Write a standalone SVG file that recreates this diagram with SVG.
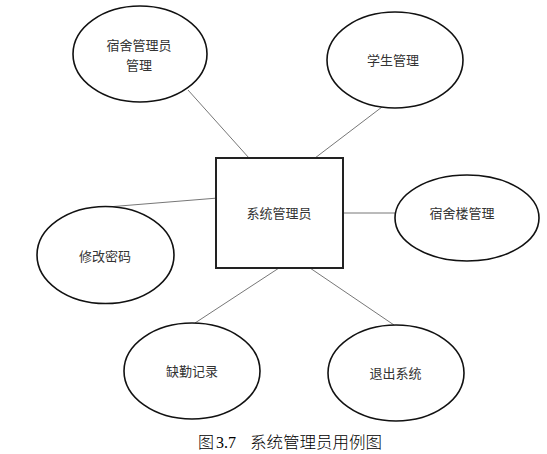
<svg xmlns="http://www.w3.org/2000/svg" width="547" height="454" viewBox="0 0 547 454">
<style>
.uc{fill:#fff;stroke:#111;stroke-width:1.6}
.box{fill:#fff;stroke:#222;stroke-width:2}
.lbl{font-family:"Noto Sans CJK SC","Liberation Sans",sans-serif;font-size:13px;fill:#333;text-anchor:middle}
.cap{font-family:"Noto Sans CJK SC",sans-serif;font-weight:300;font-size:16px;fill:#000}
.num{font-family:"Liberation Serif",serif;font-weight:400}
#connectors line{stroke:#777;stroke-width:1}
</style>
<rect width="547" height="454" fill="#fff"/>
<g id="connectors">
<line x1="188" y1="90" x2="249" y2="158"/>
<line x1="382" y1="107" x2="315" y2="158"/>
<line x1="95" y1="208" x2="218" y2="198"/>
<line x1="343" y1="213" x2="395" y2="213"/>
<line x1="279" y1="268" x2="195" y2="323"/>
<line x1="310" y1="268" x2="394" y2="325"/>
</g>
<g id="node-dorm-admin">
<ellipse class="uc" cx="140" cy="54" rx="67" ry="48"/>
<text class="lbl" x="139" y="50">宿舍管理员</text>
<text class="lbl" x="139" y="70">管理</text>
</g>
<g id="node-student">
<ellipse class="uc" cx="395" cy="60" rx="68" ry="48"/>
<text class="lbl" x="393" y="65">学生管理</text>
</g>
<g id="node-sysadmin">
<rect class="box" x="216" y="158" width="127" height="110"/>
<text class="lbl" x="279" y="218">系统管理员</text>
</g>
<g id="node-building">
<ellipse class="uc" cx="467" cy="218" rx="72" ry="43"/>
<text class="lbl" x="462" y="218">宿舍楼管理</text>
</g>
<g id="node-password">
<ellipse class="uc" cx="105.5" cy="255" rx="68.5" ry="48.5"/>
<text class="lbl" x="105" y="261">修改密码</text>
</g>
<g id="node-absence">
<ellipse class="uc" cx="192" cy="371" rx="68" ry="48"/>
<text class="lbl" x="192" y="376">缺勤记录</text>
</g>
<g id="node-logout">
<ellipse class="uc" cx="396" cy="373" rx="68" ry="48"/>
<text class="lbl" x="395.5" y="378">退出系统</text>
</g>
<text class="cap" y="448"><tspan x="198">图 </tspan><tspan class="num" x="216">3.7 </tspan><tspan x="250" textLength="132" lengthAdjust="spacingAndGlyphs">系统管理员用例图</tspan></text>
</svg>
